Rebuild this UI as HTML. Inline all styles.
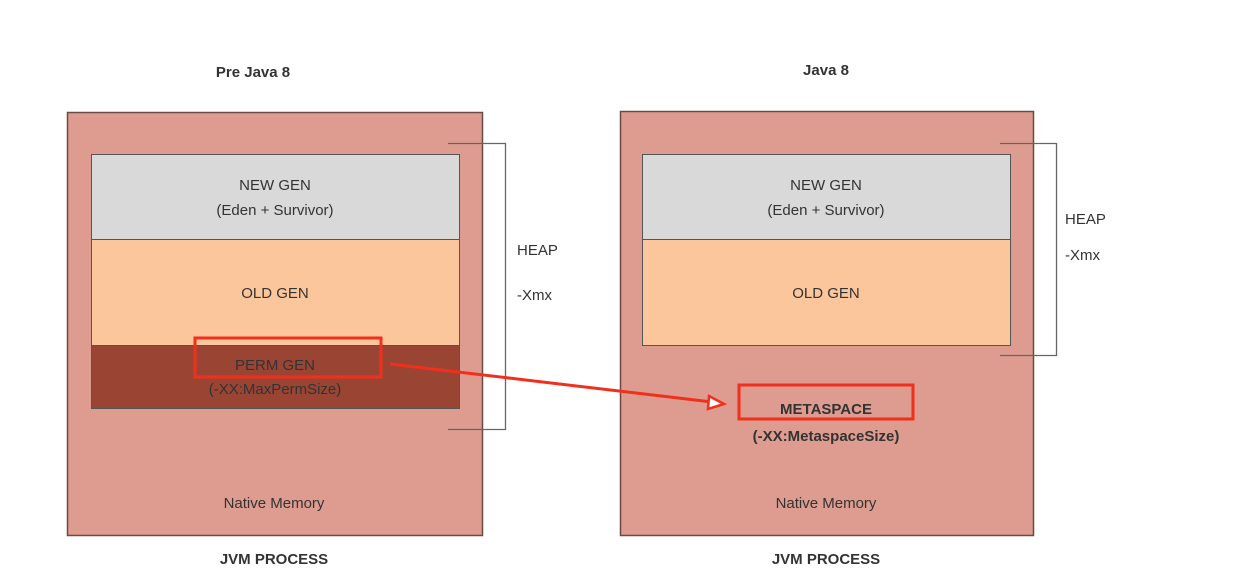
<!DOCTYPE html>
<html><head><meta charset="utf-8"><style>
html,body{margin:0;padding:0;background:#fff;}
svg{display:block;}
text{font-family:"Liberation Sans",sans-serif;fill:#333;}
</style></head><body>
<svg width="1237" height="580" viewBox="0 0 1237 580" xmlns="http://www.w3.org/2000/svg">
<!-- titles -->
<text x="253" y="77" font-size="15" font-weight="bold" text-anchor="middle" fill="#222">Pre Java 8</text>
<text x="826" y="75" font-size="15" font-weight="bold" text-anchor="middle" fill="#222">Java 8</text>

<!-- left outer -->
<rect x="67.5" y="112.5" width="415" height="423" fill="#dd9c8f" stroke="#6b4a44" stroke-width="1.5"/>
<rect x="91.5" y="154.5" width="368" height="85" fill="#d9d9d9" stroke="#555" stroke-width="1"/>
<rect x="91.5" y="239.5" width="368" height="106" fill="#fbc69c" stroke="#555" stroke-width="1"/>
<rect x="91.5" y="345.5" width="368" height="63" fill="#9a4434" stroke="#555" stroke-width="1"/>
<text x="275" y="190" font-size="15" text-anchor="middle">NEW GEN</text>
<text x="275" y="215" font-size="15" text-anchor="middle">(Eden + Survivor)</text>
<text x="275" y="298" font-size="15" text-anchor="middle">OLD GEN</text>
<text x="275" y="370" font-size="15" text-anchor="middle" fill="#3a1a14">PERM GEN</text>
<text x="275" y="394" font-size="15" text-anchor="middle" fill="#3a1a14">(-XX:MaxPermSize)</text>
<rect x="195" y="338" width="186" height="39" fill="none" stroke="#f0301c" stroke-width="3"/>
<text x="274" y="508" font-size="15" text-anchor="middle">Native Memory</text>
<text x="274" y="564" font-size="15" font-weight="bold" text-anchor="middle" fill="#222">JVM PROCESS</text>
<!-- left bracket -->
<polyline points="448,143.5 505.5,143.5 505.5,429.5 448,429.5" fill="none" stroke="#666" stroke-width="1.3"/>
<text x="517" y="255" font-size="15">HEAP</text>
<text x="517" y="300" font-size="15">-Xmx</text>

<!-- right outer -->
<rect x="620.5" y="111.5" width="413" height="424" fill="#dd9c8f" stroke="#6b4a44" stroke-width="1.5"/>
<rect x="642.5" y="154.5" width="368" height="85" fill="#d9d9d9" stroke="#555" stroke-width="1"/>
<rect x="642.5" y="239.5" width="368" height="106" fill="#fbc69c" stroke="#555" stroke-width="1"/>
<text x="826" y="190" font-size="15" text-anchor="middle">NEW GEN</text>
<text x="826" y="215" font-size="15" text-anchor="middle">(Eden + Survivor)</text>
<text x="826" y="298" font-size="15" text-anchor="middle">OLD GEN</text>
<rect x="739" y="385" width="174" height="34" fill="none" stroke="#f0301c" stroke-width="3"/>
<text x="826" y="414" font-size="15" font-weight="bold" text-anchor="middle" fill="#222">METASPACE</text>
<text x="826" y="441" font-size="15" font-weight="bold" text-anchor="middle" fill="#222">(-XX:MetaspaceSize)</text>
<text x="826" y="508" font-size="15" text-anchor="middle">Native Memory</text>
<text x="826" y="564" font-size="15" font-weight="bold" text-anchor="middle" fill="#222">JVM PROCESS</text>
<polyline points="1000,143.5 1056.5,143.5 1056.5,355.5 1000,355.5" fill="none" stroke="#666" stroke-width="1.3"/>
<text x="1065" y="224" font-size="15">HEAP</text>
<text x="1065" y="260" font-size="15">-Xmx</text>

<!-- arrow -->
<line x1="390" y1="364" x2="712" y2="402" stroke="#f0301c" stroke-width="3"/>
<polygon points="724,404 709,396 708,409" fill="#fff" stroke="#f0301c" stroke-width="2.5"/>
</svg>
</body></html>
